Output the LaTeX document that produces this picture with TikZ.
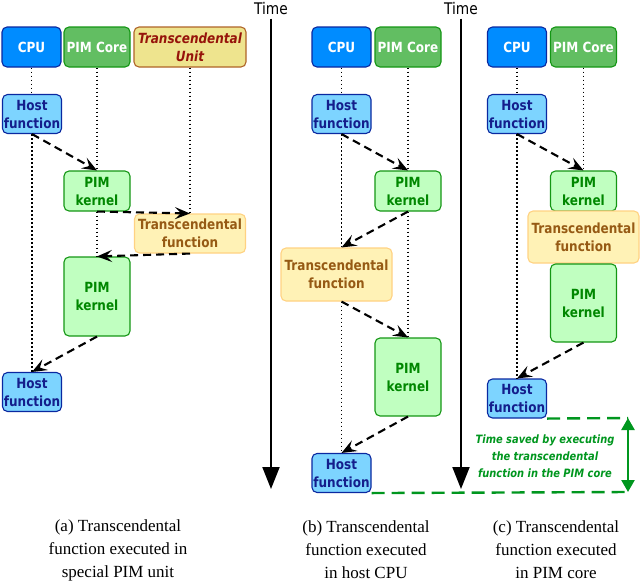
\documentclass[tikz,border=0pt]{standalone}
\usepackage{fontspec}
\setmainfont{Liberation Serif}
\newfontfamily\boxfont{DejaVu Sans}[FakeStretch=0.86]
\usetikzlibrary{arrows.meta}
\definecolor{cpublue}{RGB}{0, 140, 255}
\definecolor{hostblue}{RGB}{125, 212, 255}
\definecolor{hostedge}{RGB}{10, 40, 160}
\definecolor{hosttext}{RGB}{20, 30, 140}
\definecolor{pimgreen}{RGB}{98, 190, 98}
\definecolor{kerngreen}{RGB}{192, 255, 192}
\definecolor{kernedge}{RGB}{20, 150, 20}
\definecolor{kerntext}{RGB}{0, 135, 0}
\definecolor{tuyellow}{RGB}{238, 228, 142}
\definecolor{tuedge}{RGB}{175, 100, 40}
\definecolor{tutext}{RGB}{150, 20, 10}
\definecolor{transyellow}{RGB}{255, 242, 182}
\definecolor{transedge}{RGB}{255, 210, 130}
\definecolor{transtext}{RGB}{150, 90, 20}
\definecolor{savedgreen}{RGB}{0, 150, 30}

\begin{document}
\begin{tikzpicture}[x=1pt, y=-1pt, line width=1pt,
  box/.style={rounded corners=5pt, draw, line width=1.1pt, inner sep=0pt, align=center,
    font=\boxfont\bfseries\fontsize{14}{18}\selectfont, minimum width=59pt, minimum height=40pt},
  cpu/.style={box, fill=cpublue, draw=hostedge, text=white},
  pim/.style={box, fill=pimgreen, draw=kernedge, text=white, minimum width=66pt},
  tunit/.style={box, fill=tuyellow, draw=tuedge, text=tutext, minimum width=112pt,
    font=\boxfont\bfseries\itshape\fontsize{14}{18}\selectfont},
  host/.style={box, fill=hostblue, draw=hostedge, text=hosttext, minimum height=39pt},
  kern/.style={box, fill=kerngreen, draw=kernedge, text=kerntext, minimum width=66pt},
  trans/.style={box, fill=transyellow, draw=transedge, text=transtext, minimum width=111pt},
  life/.style={line width=1.5pt, dash pattern=on 1.5pt off 2.5pt},
  call/.style={line width=2.1pt, dash pattern=on 8pt off 5pt,
    -{Stealth[length=15pt 0, width=12pt 0, inset=6pt 0]}},
  timeline/.style={line width=2pt, -{Triangle[length=22pt, width=17pt]}},
  timelabel/.style={inner sep=0pt, font=\boxfont\fontsize{16}{18}\selectfont},
  saved/.style={draw=savedgreen, line width=2.4pt, dash pattern=on 13pt off 7pt},
  caption/.style={align=center, font=\fontsize{17}{23}\selectfont}]
  \useasboundingbox (0,0) rectangle (640,584);

  % (a) special PIM unit
  \node[cpu] (cpuA) at (31.5,47) {CPU};
  \node[pim] (pimA) at (97,47) {PIM Core};
  \node[tunit] (tuA) at (190,47) {Transcendental\\Unit};
  \node[host] (hostA1) at (32,114) {Host\\function};
  \node[kern] (kerA1) at (97,191) {PIM\\kernel};
  \node[trans, minimum height=39pt] (trA) at (190,233.5) {Transcendental\\function};
  \node[kern, minimum height=79pt] (kerA2) at (97,296.5) {PIM\\kernel};
  \node[host] (hostA2) at (32,392) {Host\\function};

  % (b) host CPU
  \node[cpu] (cpuB) at (341.5,47) {CPU};
  \node[pim] (pimB) at (408,47) {PIM Core};
  \node[host] (hostB1) at (341.5,114) {Host\\function};
  \node[kern] (kerB1) at (408,191) {PIM\\kernel};
  \node[trans, minimum height=53pt] (trB) at (336.5,274.5) {Transcendental\\function};
  \node[kern, minimum height=78pt] (kerB2) at (408,377) {PIM\\kernel};
  \node[host] (hostB2) at (341.5,473) {Host\\function};

  % (c) PIM core
  \node[cpu] (cpuC) at (517,47) {CPU};
  \node[pim] (pimC) at (583.5,47) {PIM Core};
  \node[host] (hostC1) at (517,114) {Host\\function};
  \node[kern] (kerC1) at (583.5,191) {PIM\\kernel};
  \node[trans, minimum height=52pt] (trC) at (583.5,237) {Transcendental\\function};
  \node[kern, minimum height=78pt] (kerC2) at (583.5,303) {PIM\\kernel};
  \node[host] (hostC2) at (517,398.5) {Host\\function};

  \foreach \from/\to in {cpuA/hostA1, hostA1/hostA2, pimA/kerA1, kerA1/kerA2, tuA/trA,
      cpuB/hostB1, hostB1/trB, pimB/kerB1, kerB1/kerB2,
      cpuC/hostC1, hostC1/hostC2, pimC/kerC1}
    \draw[life] (\from.south) -- (\from.south |- \to.north);
  \draw[life] (hostB2.north |- trB.south) -- (hostB2.north);

  \foreach \from/\to in {hostA1/kerA1, kerA1/trA, trA/kerA2, kerA2/hostA2,
      hostB1/kerB1, kerB2/hostB2, hostC1/kerC1, kerC2/hostC2}
    \draw[call] (\from.south) -- (\to.north);
  \draw[call] (kerB1.south) -- (hostB1.south |- trB.north);
  \draw[call] (hostB2.north |- trB.south) -- (kerB2.north);

  % time axes
  \node[timelabel] (timeA) at (271,9) {Time};
  \coordinate (timeAend) at (271,489);
  \draw[timeline] (timeA.south) ++(0,3) -- (timeAend);
  \node[timelabel] (timeB) at (461,9) {Time};
  \coordinate (timeBend) at (461,489);
  \draw[timeline] (timeB.south) ++(0,3) -- (timeBend);

  % time saved
  \coordinate (savedTR) at (628,418);
  \coordinate (savedBR) at (628,492);
  \draw[saved] (hostC2.south east) -- (savedTR);
  \draw[saved] (hostB2.south east) -- (savedBR);
  \draw[savedgreen, line width=2.4pt, {Triangle[length=12pt, width=13pt]}-{Triangle[length=12pt, width=13pt]}]
    (savedTR) -- (savedBR);
  \node[align=center, text=savedgreen, font=\boxfont\bfseries\itshape\fontsize{11.5}{17}\selectfont]
    (savedtxt) at (545,456) {Time saved by executing\\the transcendental\\function in the PIM core};

  \node[caption] (capA) at (118,550) {(a) Transcendental\\function executed in\\special PIM unit};
  \node[caption] (capB) at (366,550) {(b) Transcendental\\function executed\\in host CPU};
  \node[caption] (capC) at (556,550) {(c) Transcendental\\function executed\\in PIM core};
\end{tikzpicture}
\end{document}
